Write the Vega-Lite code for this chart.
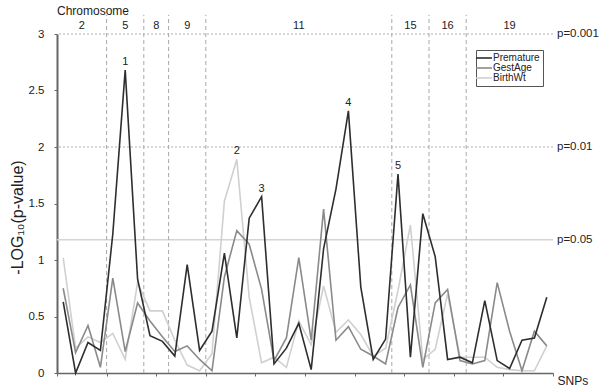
{
  "$schema": "https://vega.github.io/schema/vega-lite/v6.json",
  "width": 496,
  "height": 339,
  "autosize": {"type": "none"},
  "padding": {"left": 57, "top": 34, "right": 47, "bottom": 17},
  "background": "white",
  "config": {
    "view": {"stroke": null},
    "font": "Liberation Sans",
    "text": {"font": "Liberation Sans", "color": "#222"}
  },
  "title": {
    "text": "Chromosome",
    "anchor": "start",
    "frame": "group",
    "fontSize": 12,
    "fontWeight": "normal",
    "color": "#222",
    "font": "Liberation Sans",
    "offset": -4
  },
  "datasets": {
    "snps": [
      {"snp":1,"series":"BirthWt","value":1.02},{"snp":2,"series":"BirthWt","value":0.22},{"snp":3,"series":"BirthWt","value":0.32},{"snp":4,"series":"BirthWt","value":0.27},{"snp":5,"series":"BirthWt","value":0.35},{"snp":6,"series":"BirthWt","value":0.12},{"snp":7,"series":"BirthWt","value":0.80},{"snp":8,"series":"BirthWt","value":0.55},{"snp":9,"series":"BirthWt","value":0.55},{"snp":10,"series":"BirthWt","value":0.29},
      {"snp":11,"series":"BirthWt","value":0.07},{"snp":12,"series":"BirthWt","value":0.02},{"snp":13,"series":"BirthWt","value":0.17},{"snp":14,"series":"BirthWt","value":1.52},{"snp":15,"series":"BirthWt","value":1.89},{"snp":16,"series":"BirthWt","value":0.67},{"snp":17,"series":"BirthWt","value":0.09},{"snp":18,"series":"BirthWt","value":0.14},{"snp":19,"series":"BirthWt","value":0.05},{"snp":20,"series":"BirthWt","value":0.46},
      {"snp":21,"series":"BirthWt","value":0.25},{"snp":22,"series":"BirthWt","value":0.77},{"snp":23,"series":"BirthWt","value":0.36},{"snp":24,"series":"BirthWt","value":0.47},{"snp":25,"series":"BirthWt","value":0.34},{"snp":26,"series":"BirthWt","value":0.15},{"snp":27,"series":"BirthWt","value":0.22},{"snp":28,"series":"BirthWt","value":0.73},{"snp":29,"series":"BirthWt","value":1.31},{"snp":30,"series":"BirthWt","value":0.12},
      {"snp":31,"series":"BirthWt","value":0.21},{"snp":32,"series":"BirthWt","value":0.70},{"snp":33,"series":"BirthWt","value":0.14},{"snp":34,"series":"BirthWt","value":0.14},{"snp":35,"series":"BirthWt","value":0.14},{"snp":36,"series":"BirthWt","value":0.05},{"snp":37,"series":"BirthWt","value":0.03},{"snp":38,"series":"BirthWt","value":0.02},{"snp":39,"series":"BirthWt","value":0.02},{"snp":40,"series":"BirthWt","value":0.24},
      {"snp":1,"series":"GestAge","value":0.75},{"snp":2,"series":"GestAge","value":0.18},{"snp":3,"series":"GestAge","value":0.42},{"snp":4,"series":"GestAge","value":0.05},{"snp":5,"series":"GestAge","value":0.84},{"snp":6,"series":"GestAge","value":0.19},{"snp":7,"series":"GestAge","value":0.62},{"snp":8,"series":"GestAge","value":0.46},{"snp":9,"series":"GestAge","value":0.32},{"snp":10,"series":"GestAge","value":0.19},
      {"snp":11,"series":"GestAge","value":0.24},{"snp":12,"series":"GestAge","value":0.12},{"snp":13,"series":"GestAge","value":0.02},{"snp":14,"series":"GestAge","value":0.85},{"snp":15,"series":"GestAge","value":1.26},{"snp":16,"series":"GestAge","value":1.14},{"snp":17,"series":"GestAge","value":0.74},{"snp":18,"series":"GestAge","value":0.11},{"snp":19,"series":"GestAge","value":0.31},{"snp":20,"series":"GestAge","value":1.02},
      {"snp":21,"series":"GestAge","value":0.29},{"snp":22,"series":"GestAge","value":1.45},{"snp":23,"series":"GestAge","value":0.29},{"snp":24,"series":"GestAge","value":0.41},{"snp":25,"series":"GestAge","value":0.21},{"snp":26,"series":"GestAge","value":0.15},{"snp":27,"series":"GestAge","value":0.08},{"snp":28,"series":"GestAge","value":0.58},{"snp":29,"series":"GestAge","value":0.78},{"snp":30,"series":"GestAge","value":0.05},
      {"snp":31,"series":"GestAge","value":0.62},{"snp":32,"series":"GestAge","value":0.74},{"snp":33,"series":"GestAge","value":0.11},{"snp":34,"series":"GestAge","value":0.08},{"snp":35,"series":"GestAge","value":0.11},{"snp":36,"series":"GestAge","value":0.80},{"snp":37,"series":"GestAge","value":0.37},{"snp":38,"series":"GestAge","value":0.02},{"snp":39,"series":"GestAge","value":0.37},{"snp":40,"series":"GestAge","value":0.24},
      {"snp":1,"series":"Premature","value":0.63},{"snp":2,"series":"Premature","value":0.0},{"snp":3,"series":"Premature","value":0.27},{"snp":4,"series":"Premature","value":0.20},{"snp":5,"series":"Premature","value":1.23},{"snp":6,"series":"Premature","value":2.68},{"snp":7,"series":"Premature","value":0.83},{"snp":8,"series":"Premature","value":0.33},{"snp":9,"series":"Premature","value":0.28},{"snp":10,"series":"Premature","value":0.15},
      {"snp":11,"series":"Premature","value":0.96},{"snp":12,"series":"Premature","value":0.20},{"snp":13,"series":"Premature","value":0.37},{"snp":14,"series":"Premature","value":1.06},{"snp":15,"series":"Premature","value":0.31},{"snp":16,"series":"Premature","value":1.37},{"snp":17,"series":"Premature","value":1.56},{"snp":18,"series":"Premature","value":0.08},{"snp":19,"series":"Premature","value":0.22},{"snp":20,"series":"Premature","value":0.44},
      {"snp":21,"series":"Premature","value":0.03},{"snp":22,"series":"Premature","value":1.1},{"snp":23,"series":"Premature","value":1.63},{"snp":24,"series":"Premature","value":2.32},{"snp":25,"series":"Premature","value":0.76},{"snp":26,"series":"Premature","value":0.12},{"snp":27,"series":"Premature","value":0.30},{"snp":28,"series":"Premature","value":1.76},{"snp":29,"series":"Premature","value":0.14},{"snp":30,"series":"Premature","value":1.41},
      {"snp":31,"series":"Premature","value":1.03},{"snp":32,"series":"Premature","value":0.12},{"snp":33,"series":"Premature","value":0.14},{"snp":34,"series":"Premature","value":0.09},{"snp":35,"series":"Premature","value":0.64},{"snp":36,"series":"Premature","value":0.11},{"snp":37,"series":"Premature","value":0.04},{"snp":38,"series":"Premature","value":0.29},{"snp":39,"series":"Premature","value":0.31},{"snp":40,"series":"Premature","value":0.67}
    ],
    "peaks": [
      {"snp":6,"value":2.68,"label":"1"},
      {"snp":15,"value":1.89,"label":"2"},
      {"snp":17,"value":1.56,"label":"3"},
      {"snp":24,"value":2.32,"label":"4"},
      {"snp":28,"value":1.76,"label":"5"}
    ],
    "chroms": [
      {"chrom":"2","start":0.5,"mid":2.5},
      {"chrom":"5","start":4.5,"mid":6},
      {"chrom":"8","start":7.5,"mid":8.5},
      {"chrom":"9","start":9.5,"mid":11},
      {"chrom":"11","start":12.5,"mid":20},
      {"chrom":"15","start":27.5,"mid":29},
      {"chrom":"16","start":30.5,"mid":32},
      {"chrom":"19","start":33.5,"mid":37}
    ],
    "thresholds": [
      {"p":"p=0.001","v":3},
      {"p":"p=0.01","v":2},
      {"p":"p=0.05","v":1.18}
    ]
  },
  "layer": [
    {
      "data": {"name": "thresholds"},
      "transform": [{"filter": "datum.v >= 2"}],
      "mark": {"type": "rule", "color": "#b0b0b0", "strokeDash": [2, 2], "strokeWidth": 1.2},
      "encoding": {"y": {"field": "v", "type": "quantitative"}}
    },
    {
      "data": {"name": "thresholds"},
      "transform": [{"filter": "datum.v < 2"}],
      "mark": {"type": "rule", "color": "#d4d4d4", "strokeWidth": 1.5},
      "encoding": {"y": {"field": "v", "type": "quantitative"}}
    },
    {
      "data": {"name": "chroms"},
      "transform": [{"filter": "datum.start > 0.5"}],
      "mark": {"type": "rule", "color": "#a8a8a8", "strokeDash": [4, 3], "strokeWidth": 1},
      "encoding": {
        "x": {"field": "start", "type": "quantitative"},
        "y": {"datum": 0},
        "y2": {"datum": 3.17}
      }
    },
    {
      "data": {"name": "snps"},
      "mark": {"type": "line", "strokeWidth": 1.6, "clip": false},
      "encoding": {
        "x": {
          "field": "snp",
          "type": "quantitative",
          "scale": {"domain": [0.5, 40.5], "nice": false, "zero": false},
          "axis": {
            "values": [0.5,1.5,2.5,3.5,4.5,5.5,6.5,7.5,8.5,9.5,10.5,11.5,12.5,13.5,14.5,15.5,16.5,17.5,18.5,19.5,20.5,21.5,22.5,23.5,24.5,25.5,26.5,27.5,28.5,29.5,30.5,31.5,32.5,33.5,34.5,35.5,36.5,37.5,38.5,39.5,40.5],
            "labels": false,
            "grid": false,
            "tickSize": 3,
            "tickColor": "#666",
            "domainColor": "#666",
            "domainWidth": 1.5,
            "title": "SNPs",
            "titleX": 500,
            "titleY": 7,
            "titleAlign": "left",
            "titleBaseline": "middle",
            "titleFontSize": 12,
            "titleFontWeight": "normal",
            "titleColor": "#222",
            "titleFont": "Liberation Sans"
          }
        },
        "y": {
          "field": "value",
          "type": "quantitative",
          "scale": {"domain": [0, 3], "nice": false, "zero": true},
          "axis": {
            "values": [0, 0.5, 1, 1.5, 2, 2.5, 3],
            "format": "~g",
            "grid": false,
            "tickSize": 3,
            "tickColor": "#666",
            "domainColor": "#666",
            "domainWidth": 2,
            "labelFontSize": 11.5,
            "labelColor": "#222",
            "labelPadding": 10,
            "labelFont": "Liberation Sans",
            "title": "-LOG₁₀(p-value)",
            "titleX": -40,
            "titleY": 183,
            "titleAngle": -90,
            "titleAlign": "center",
            "titleBaseline": "middle",
            "titleFontSize": 16,
            "titleFontWeight": "normal",
            "titleColor": "#222",
            "titleFont": "Liberation Sans"
          }
        },
        "color": {
          "field": "series",
          "type": "nominal",
          "scale": {"domain": ["Premature", "GestAge", "BirthWt"], "range": ["#2e2e2e", "#8a8a8a", "#d0d0d0"]},
          "legend": {
            "orient": "none",
            "legendX": 419,
            "legendY": 16,
            "title": null,
            "strokeColor": "#555",
            "padding": 3,
            "symbolType": "M-2,0H2",
            "symbolSize": 64,
            "symbolStrokeWidth": 1.6,
            "symbolFillColor": "transparent",
            "labelFontSize": 10,
            "labelFont": "Liberation Sans",
            "labelColor": "#222",
            "labelOffset": 4,
            "rowPadding": -2,
            "fillColor": "white"
          }
        }
      }
    },
    {
      "data": {"name": "peaks"},
      "mark": {"type": "text", "fontSize": 11, "baseline": "alphabetic", "dy": -5},
      "encoding": {
        "x": {"field": "snp", "type": "quantitative"},
        "y": {"field": "value", "type": "quantitative"},
        "text": {"field": "label"}
      }
    },
    {
      "data": {"name": "chroms"},
      "mark": {"type": "text", "fontSize": 11, "baseline": "middle"},
      "encoding": {
        "x": {"field": "mid", "type": "quantitative"},
        "y": {"datum": 3.07},
        "text": {"field": "chrom"}
      }
    },
    {
      "data": {"name": "thresholds"},
      "mark": {"type": "text", "fontSize": 11.5, "align": "left", "baseline": "middle", "dx": 4},
      "encoding": {
        "x": {"datum": 40.5},
        "y": {"field": "v", "type": "quantitative"},
        "text": {"field": "p"}
      }
    }
  ]
}
